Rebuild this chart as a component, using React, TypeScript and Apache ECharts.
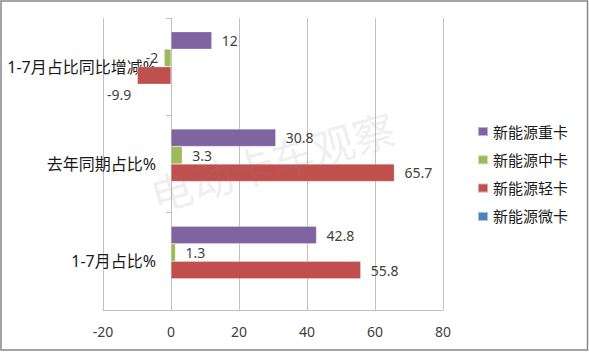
import React, { useEffect, useRef } from "react";
import * as echarts from "echarts";

const categories = ["1-7月占比%", "去年同期占比%", "1-7月占比同比增减%"];
const heavy = [42.8, 30.8, 12];
const medium = [1.3, 3.3, -2];
const light = [55.8, 65.7, -9.9];
const micro: (number | null)[] = [null, null, null];
const seriesNames = ["新能源重卡", "新能源中卡", "新能源轻卡", "新能源微卡"];
const colors = ["#8064A2", "#9BBB59", "#C0504D", "#4F81BD"];
const xMin = -20;
const xMax = 80;
const xInterval = 20;
const watermark = "电动卡车观察";

const FONT = "'Noto Sans', 'Noto Sans CJK SC', sans-serif";

function mkData(vals: (number | null)[], negOffset: number[][]) {
  return vals.map((v, i) => {
    if (v === null) return null;
    if (v < 0) {
      return {
        value: v,
        label: { position: "left", distance: 6, offset: negOffset[i] },
      };
    }
    return v;
  });
}

export default function App() {
  const ref = useRef<HTMLDivElement>(null);
  useEffect(() => {
    document.body.style.margin = "0";
    const chart = echarts.init(ref.current!, undefined, { renderer: "svg" });
    const label = {
      show: true,
      position: "right",
      distance: 10,
      color: "#404040",
      fontSize: 14,
      fontFamily: FONT,
    };
    const vals = [heavy, medium, light, micro];
    const negOffsets = [
      [[0, 0], [0, 0], [0, 0]],
      [[0, 0], [0, 0], [0, 0]],
      [[0, 0], [0, 0], [0, 19]],
      [[0, 0], [0, 0], [0, 0]],
    ];
    chart.setOption({
      animation: false,
      backgroundColor: "#ffffff",
      grid: {
        left: 103,
        right: 146,
        top: 18,
        bottom: 42,
        containLabel: false,
        outerBoundsMode: "none",
      },
      xAxis: {
        type: "value",
        min: xMin,
        max: xMax,
        interval: xInterval,
        axisLine: { show: true, lineStyle: { color: "#bfbfbf" } },
        axisTick: { show: false },
        axisLabel: { color: "#404040", fontSize: 14, fontFamily: FONT, margin: 14 },
        splitLine: { show: true, lineStyle: { color: "#c0c0c0" } },
      },
      yAxis: {
        type: "category",
        data: categories,
        axisLine: { show: true, onZero: true, lineStyle: { color: "#bfbfbf" } },
        axisTick: { show: true, length: 5, lineStyle: { color: "#bfbfbf" } },
        axisLabel: { color: "#1a1a1a", fontSize: 16, fontFamily: FONT, margin: -53 },
        splitLine: { show: false },
      },
      legend: {
        orient: "vertical",
        left: 472,
        top: 119,
        itemWidth: 10,
        itemHeight: 9,
        itemGap: 13.3,
        icon: "rect",
        textStyle: { color: "#1a1a1a", fontSize: 15, fontFamily: FONT },
        data: seriesNames,
      },
      series: seriesNames.map((name, si) => ({
        name,
        type: "bar",
        barGap: "0%",
        barCategoryGap: "28%",
        itemStyle: { color: colors[si], borderColor: "rgba(255,255,255,0.5)", borderWidth: 0.5 },
        label,
        data: mkData(vals[si], negOffsets[si]),
      })),
      graphic: [
        {
          type: "text",
          x: 272,
          y: 160,
          rotation: 0.28,
          z: 100,
          silent: true,
          style: {
            text: watermark,
            fontSize: 42,
            fontFamily: "'Noto Sans CJK SC', sans-serif",
            fill: "rgba(128,128,128,0.15)",
            textAlign: "center",
            textVerticalAlign: "middle",
          },
        },
        {
          type: "rect",
          shape: { x: 1, y: 1, width: 586.5, height: 349 },
          z: 100,
          silent: true,
          style: { fill: "none", stroke: "#878787", lineWidth: 1.5 },
        },
      ],
    });
    return () => chart.dispose();
  }, []);
  return <div ref={ref} style={{ width: 589, height: 352 }} />;
}
